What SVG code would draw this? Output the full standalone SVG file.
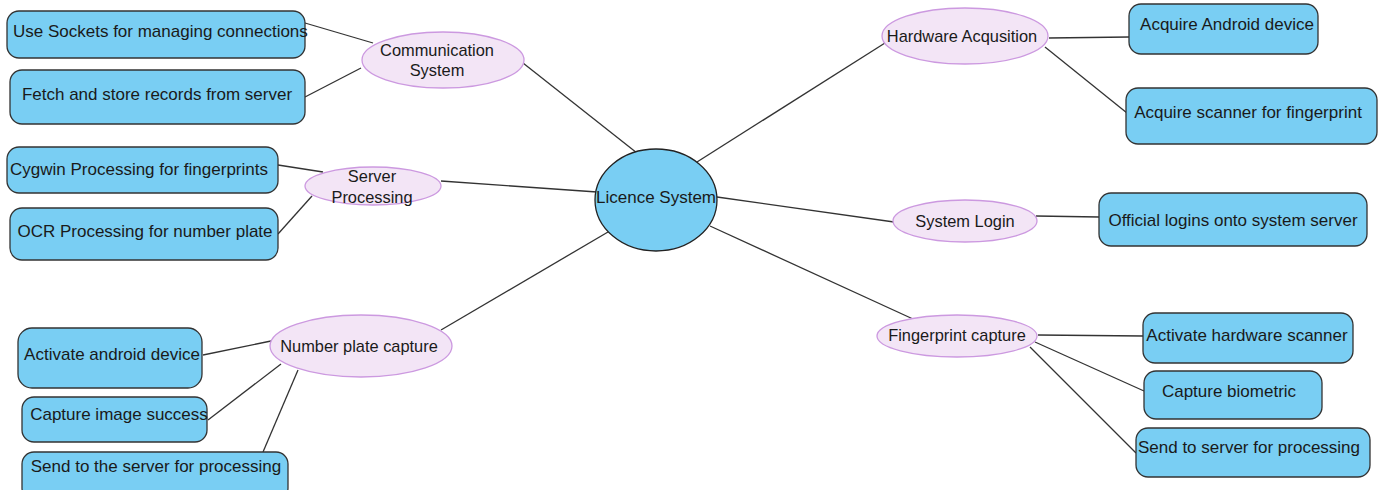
<svg xmlns="http://www.w3.org/2000/svg" width="1389" height="490" viewBox="0 0 1389 490">
  <style>
    .box { fill: #79cef3; stroke: #333; stroke-width: 1.3; }
    .topic { fill: #f3e5f6; stroke: #cc99e0; stroke-width: 1.3; }
    .hub { fill: #79cef3; stroke: #222; stroke-width: 1.3; }
    .lbl { font-family: "Liberation Sans", Arial, sans-serif; font-size: 17px; fill: #1a1a1a; text-anchor: middle; }
    .tlbl { font-family: "Liberation Sans", Arial, sans-serif; font-size: 16.4px; fill: #1a1a1a; text-anchor: middle; }
    .edges line { stroke: #333; stroke-width: 1.3; }
  </style>
  <rect width="1389" height="490" fill="#ffffff"/>

  <!-- connectors -->
  <g class="edges">
    <line x1="305" y1="23" x2="373" y2="43"/>
    <line x1="305" y1="97" x2="361" y2="68"/>
    <line x1="523" y1="63" x2="637" y2="153"/>
    <line x1="278" y1="165" x2="323" y2="172"/>
    <line x1="278" y1="234" x2="312" y2="196"/>
    <line x1="441" y1="181" x2="597" y2="192"/>
    <line x1="203" y1="355" x2="271" y2="341"/>
    <line x1="208" y1="420" x2="281" y2="364"/>
    <line x1="263" y1="452" x2="298" y2="370"/>
    <line x1="441" y1="330" x2="608" y2="232"/>
    <line x1="697" y1="162" x2="885" y2="43"/>
    <line x1="1049" y1="38" x2="1129" y2="37"/>
    <line x1="1045" y1="47" x2="1127" y2="113"/>
    <line x1="717" y1="197" x2="894" y2="222"/>
    <line x1="1036" y1="216" x2="1099" y2="217"/>
    <line x1="710" y1="226" x2="913" y2="319"/>
    <line x1="1038" y1="335" x2="1143" y2="336"/>
    <line x1="1035" y1="342" x2="1144" y2="391"/>
    <line x1="1030" y1="347" x2="1136" y2="453"/>
  </g>

  <!-- central node -->
  <g id="licence-system">
    <ellipse class="hub" cx="656" cy="200" rx="61" ry="51"/>
    <text class="lbl" x="656" y="203">Licence System</text>
  </g>

  <!-- topic nodes -->
  <g id="communication-system">
    <ellipse class="topic" cx="443" cy="60" rx="81" ry="28"/>
    <text class="tlbl" x="437" y="56">Communication</text>
    <text class="tlbl" x="437" y="76">System</text>
  </g>
  <g id="server-processing">
    <ellipse class="topic" cx="373" cy="186" rx="68" ry="19"/>
    <text class="tlbl" x="372" y="182">Server</text>
    <text class="tlbl" x="372" y="203">Processing</text>
  </g>
  <g id="number-plate-capture">
    <ellipse class="topic" cx="361" cy="346" rx="91" ry="31"/>
    <text class="tlbl" x="359" y="352">Number plate capture</text>
  </g>
  <g id="hardware-acqusition">
    <ellipse class="topic" cx="965" cy="36" rx="83" ry="28"/>
    <text class="tlbl" x="962" y="42">Hardware Acqusition</text>
  </g>
  <g id="system-login">
    <ellipse class="topic" cx="965" cy="221" rx="72" ry="21"/>
    <text class="tlbl" x="965" y="227">System Login</text>
  </g>
  <g id="fingerprint-capture">
    <ellipse class="topic" cx="957" cy="336" rx="80" ry="21"/>
    <text class="tlbl" x="957" y="341">Fingerprint capture</text>
  </g>

  <!-- leaf nodes: communication -->
  <g id="use-sockets">
    <rect class="box" x="7" y="11" width="298" height="47" rx="12"/>
    <text class="lbl" x="13" y="37" style="text-anchor:start">Use Sockets for managing connections</text>
  </g>
  <g id="fetch-store">
    <rect class="box" x="10" y="70" width="295" height="54" rx="12"/>
    <text class="lbl" x="157" y="100">Fetch and store records from server</text>
  </g>

  <!-- leaf nodes: server processing -->
  <g id="cygwin">
    <rect class="box" x="7" y="147" width="271" height="46" rx="12"/>
    <text class="lbl" x="139" y="175">Cygwin Processing for fingerprints</text>
  </g>
  <g id="ocr">
    <rect class="box" x="10" y="208" width="268" height="52" rx="12"/>
    <text class="lbl" x="145" y="237">OCR Processing for number plate</text>
  </g>

  <!-- leaf nodes: number plate capture -->
  <g id="activate-android">
    <rect class="box" x="18" y="328" width="184" height="60" rx="14"/>
    <text class="lbl" x="112" y="360">Activate android device</text>
  </g>
  <g id="capture-image">
    <rect class="box" x="22" y="397" width="185" height="45" rx="12"/>
    <text class="lbl" x="119" y="420">Capture image success</text>
  </g>
  <g id="send-server-plate">
    <rect class="box" x="22" y="452" width="266" height="48" rx="12"/>
    <text class="lbl" x="156" y="472">Send to the server for processing</text>
  </g>

  <!-- leaf nodes: hardware -->
  <g id="acquire-android">
    <rect class="box" x="1129" y="4" width="189" height="50" rx="12"/>
    <text class="lbl" x="1227" y="30">Acquire Android device</text>
  </g>
  <g id="acquire-scanner">
    <rect class="box" x="1126" y="88" width="251" height="56" rx="12"/>
    <text class="lbl" x="1248" y="118">Acquire scanner for fingerprint</text>
  </g>

  <!-- leaf node: login -->
  <g id="official-logins">
    <rect class="box" x="1099" y="193" width="268" height="53" rx="12"/>
    <text class="lbl" x="1233" y="226">Official logins onto system server</text>
  </g>

  <!-- leaf nodes: fingerprint -->
  <g id="activate-scanner">
    <rect class="box" x="1143" y="313" width="210" height="50" rx="12"/>
    <text class="lbl" x="1247" y="341">Activate hardware scanner</text>
  </g>
  <g id="capture-biometric">
    <rect class="box" x="1144" y="371" width="178" height="48" rx="12"/>
    <text class="lbl" x="1229" y="397">Capture biometric</text>
  </g>
  <g id="send-server-fp">
    <rect class="box" x="1136" y="428" width="234" height="49" rx="12"/>
    <text class="lbl" x="1249" y="453">Send to server for processing</text>
  </g>
</svg>
